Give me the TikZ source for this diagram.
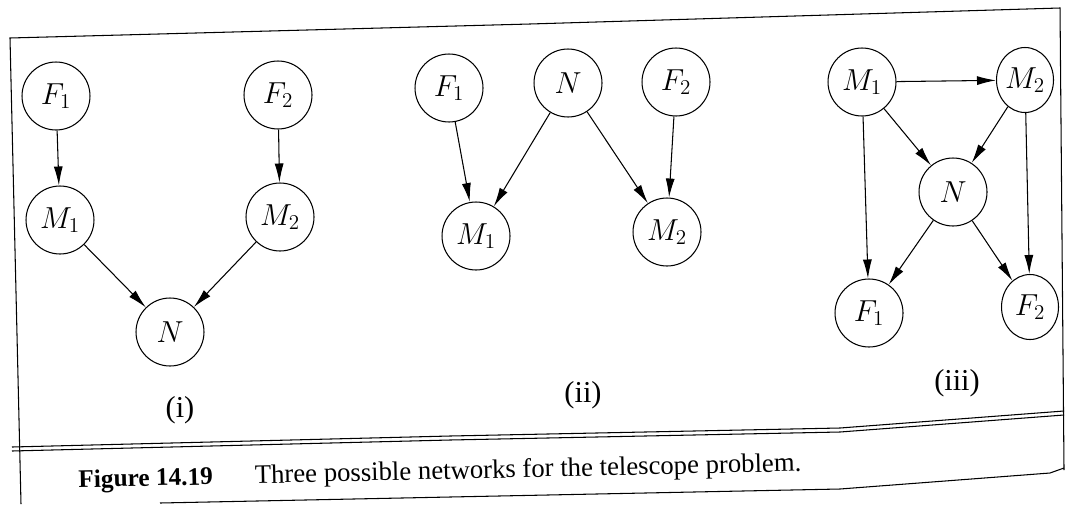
\documentclass[tikz,border=0pt]{standalone}
\usepackage{fontspec}
\setmainfont{Liberation Serif}
\usetikzlibrary{arrows.meta, shapes.geometric}
\tikzset{
  every picture/.style={line width=0.6pt},
  var/.style={circle, draw, minimum size=1.36cm, inner sep=0pt, font=\LARGE},
  tallvar/.style={ellipse, draw, minimum width=1.14cm, minimum height=1.3cm, inner sep=0pt, font=\LARGE},
  arrow/.style={-{Latex[length=3.8mm, width=1.8mm]}},
  panel/.style={font=\LARGE},
  frame/.style={line width=0.6pt},
}
\begin{document}
\begin{tikzpicture}[x=0.02cm, y=-0.02cm]
  \useasboundingbox (0,0) rectangle (1070,504);
  % scanned frame, slightly curved
  \draw[frame] (21,504) -- (10,38) -- (530,24) -- (1060,8) -- (1064,470);
  \draw[frame] (12,447) -- (450,436) -- (840,428) -- (1064,411);
  \draw[frame] (12,451) -- (450,440) -- (840,432) -- (1064,415);
  \draw[frame] (160,503) -- (450,497) -- (840,489) -- (1050,473) -- (1064,468);
  % (i)
  \foreach \n/\x/\y/\t in {i-F1/56/96/F_1, i-F2/278/95/F_2, i-M1/60/220/M_1, i-M2/280/217/M_2, i-N/170/332/N}
    \node[var] (\n) at (\x,\y) {$\t$};
  \foreach \a/\b in {i-F1/i-M1, i-F2/i-M2, i-M1/i-N, i-M2/i-N}
    \draw[arrow] (\a) -- (\b);
  \node[panel] (lab-i) at (180,410) {(i)};
  % (ii)
  \foreach \n/\x/\y/\t in {ii-F1/449/88/F_1, ii-N/568/83/N, ii-F2/676/82/F_2, ii-M1/476/236/M_1, ii-M2/667/232/M_2}
    \node[var] (\n) at (\x,\y) {$\t$};
  \foreach \a/\b in {ii-F1/ii-M1, ii-N/ii-M1, ii-N/ii-M2, ii-F2/ii-M2}
    \draw[arrow] (\a) -- (\b);
  \node[panel] (lab-ii) at (583,395) {(ii)};
  % (iii)
  \foreach \n/\x/\y/\t in {iii-M1/862/82/M_1, iii-N/953/192/N, iii-F1/869/313/F_1}
    \node[var] (\n) at (\x,\y) {$\t$};
  \node[tallvar] (iii-M2) at (1025,80) {$M_2$};
  \node[tallvar] (iii-F2) at (1030,307) {$F_2$};
  \foreach \a/\b in {iii-M1/iii-M2, iii-M1/iii-N, iii-M2/iii-N, iii-M1/iii-F1, iii-M2/iii-F2, iii-N/iii-F1, iii-N/iii-F2}
    \draw[arrow] (\a) -- (\b);
  \node[panel] (lab-iii) at (957,383) {(iii)};
  % caption
  \node[anchor=west, rotate=1.3, font=\Large, inner sep=0pt] (cap) at (78,481)
    {\textbf{Figure 14.19}\hspace{0.84cm}{\fontsize{15.2}{18}\selectfont Three possible networks for the telescope problem.}};
\end{tikzpicture}
\end{document}
